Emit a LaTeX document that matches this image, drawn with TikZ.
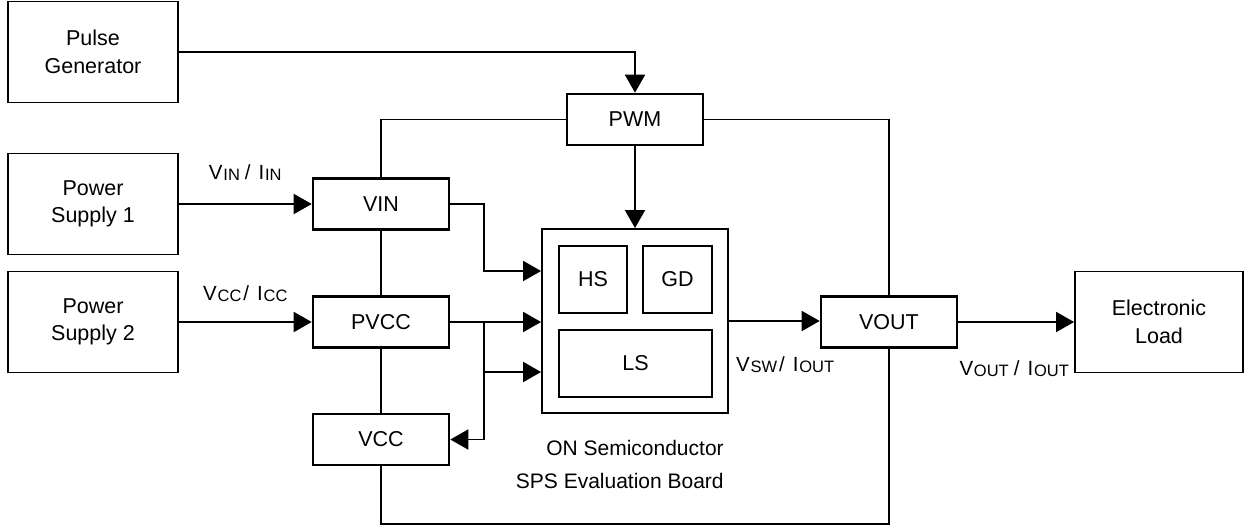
\documentclass[tikz,border=0pt]{standalone}
\usepackage{fontspec}
\setmainfont{Liberation Sans}
\usetikzlibrary{arrows.meta, positioning, calc}
\newcommand{\sbs}[1]{\kern0.8pt\raisebox{-1.2pt}{\fontsize{16.5}{16.5}\selectfont #1}}

\begin{document}
\begin{tikzpicture}[x=1pt, y=-1pt,
  blk/.style={draw, rectangle, line width=1.8pt, minimum width=170pt, minimum height=101pt, align=center, inner sep=0pt, font=\fontsize{21.5}{27.5}\selectfont},
  pin/.style={draw, rectangle, line width=2.6pt, minimum width=136pt, minimum height=51pt, inner sep=0pt, font=\fontsize{21.5}{27}\selectfont},
  part/.style={draw, rectangle, line width=1.8pt, minimum height=67pt, inner sep=0pt, font=\fontsize{21.5}{27}\selectfont},
  wire/.style={line width=1.8pt},
  arr/.style={wire, -{Triangle[length=18pt, width=20pt]}},
  lbl/.style={font=\fontsize{20.5}{24}\selectfont, inner sep=0pt}
]
\useasboundingbox (0,0) rectangle (1244,525);

\node[blk] (pulse) at (93,52) {Pulse\\Generator};
\node[blk] (ps1) at (93,204) {Power\\Supply 1};
\node[blk] (ps2) at (93,322) {Power\\Supply 2};
\node[pin] (vin) at (381,204) {VIN};
\node[pin] (pvcc) at (381,322) {PVCC};
\node[pin] (vcc) at (381,439.5) {VCC};
\node[pin] (pwm) at (635,119.5) {PWM};
\node[blk, minimum width=186pt, minimum height=184pt] (sps) at (635,321) {};
\node[part, minimum width=68pt] (hs) at (593,279.5) {HS};
\node[part, minimum width=69pt] (gd) at (677.5,279.5) {GD};
\node[part, minimum width=153pt] (ls) at (635.5,363.5) {LS};
\node[pin] (vout) at (889,322) {VOUT};
\node[blk, minimum width=168pt] (load) at (1159,322) {Electronic\\Load};
\node[lbl, font=\fontsize{21}{33}\selectfont, align=right, anchor=north east] (brd) at ($(sps.south east)+(-5,26)$) {ON Semiconductor\\SPS Evaluation Board};

\draw[wire] (pwm.west) -| (vin.north);
\draw[wire] (pwm.east) -| (vout.north);
\draw[wire] (vin.south) -- (pvcc.north);
\draw[wire] (pvcc.south) -- (vcc.north);
\draw[wire] (vcc.south) -- ++(0,58) -| (vout.south);

\draw[arr] (pulse.east) -| (pwm.north);
\draw[arr] (pwm.south) -- (sps.north);
\draw[arr] (ps1.east) -- node[lbl, anchor=base, yshift=25pt] {V\sbs{IN}\kern5pt/\kern8pt I\sbs{IN}} (vin.west);
\draw[arr] (ps2.east) -- node[lbl, anchor=base, yshift=22pt] {V\sbs{CC}\kern2pt/\kern8pt I\sbs{CC}} (pvcc.west);
\draw[arr] (vin.east) -- ++(34,0) |- ($(sps.west)+(0,-50)$);
\draw[arr] (pvcc.east) -- (pvcc.east -| sps.west);
\coordinate (tap) at ($(pvcc.east)+(34,0)$);
\draw[arr] (tap) |- ($(sps.west)+(0,51)$);
\draw[arr] (tap) |- (vcc.east);
\draw[arr] (sps.east) -- (sps.east -| vout.west);
\draw[arr] (vout.east) -- (load.west);

\node[lbl, anchor=base west, xshift=7pt, yshift=-50pt] (vsw) at (sps.east) {V\sbs{SW}\kern2pt/\kern8pt I\sbs{OUT}};
\node[lbl, anchor=base west, xshift=1pt, yshift=-53pt] (vo) at (vout.east) {V\sbs{OUT}\kern5pt/\kern8pt I\sbs{OUT}};

\end{tikzpicture}
\end{document}
